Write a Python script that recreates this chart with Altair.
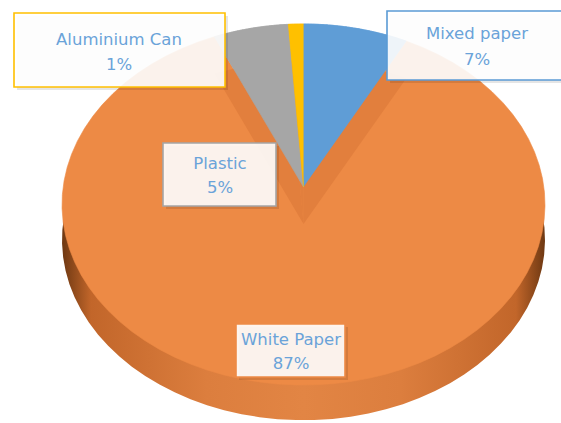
import altair as alt
import pandas as pd

# ---------------- data ----------------
categories = ["Mixed paper", "White Paper", "Plastic", "Aluminium Can"]
shares = [7, 87, 5, 1]

# ---------------- styles ----------------
slice_colors = ["#5F9DD6", "#ED8A45", "#A6A6A6", "#FFC000"]
label_borders = ["#5B9BD5", "#ED8A45", "#A5A5A5", "#FFC000"]
text_color = "#6AA3D9"
wall_color = "#E27F3D"

# label box layout (pixels)
box_x1 = [387, 236, 163, 14]
box_x2 = [570, 345, 276, 225]
box_y1 = [11, 324, 143, 13]
box_y2 = [80, 377, 206, 87]
txt_x = [477, 291, 220, 119]
txt_y1 = [34, 340, 164, 40]
txt_y2 = [60, 364, 188, 65]

W, H = 561, 423
X_RANGE = [62, 545]
Y_RANGE = [385, 24]
APEX = 0.097     # apparent centre of the tilted top face
DEPTH = 0.195    # thickness of the disc
N = 72

pie_df = pd.DataFrame({"category": categories, "share": shares,
                       "idx": list(range(len(categories)))})

xs = alt.Scale(domain=[-1, 1], range=X_RANGE)
ys = alt.Scale(domain=[-1, 1], range=Y_RANGE)


def wedges(shift=0.0):
    return (
        alt.Chart(pie_df)
        .transform_window(cum="sum(share)", sort=[alt.SortField("idx")], frame=[None, 0])
        .transform_joinaggregate(total="sum(share)")
        .transform_calculate(
            a0="2*PI*(datum.cum - datum.share)/datum.total",
            a1="2*PI*datum.cum/datum.total",
            steps=f"sequence(0, {N + 2})",
        )
        .transform_flatten(["steps"], as_=["k"])
        .transform_calculate(ang=f"datum.a0 + (datum.a1 - datum.a0)*(datum.k - 1)/{N}")
        .transform_calculate(
            px="datum.k == 0 ? 0 : sin(datum.ang)",
            py=f"(datum.k == 0 ? {APEX} : cos(datum.ang)) - {shift}",
        )
    )


enc = dict(
    x=alt.X("px:Q", scale=xs, axis=None),
    y=alt.Y("py:Q", scale=ys, axis=None),
    order=alt.Order("k:Q"),
    detail="category:N",
)

side_grad = alt.LinearGradient(
    gradient="linear", x1=0, x2=1, y1=0, y2=0,
    stops=[
        alt.GradientStop(color="#6E3812", offset=0),
        alt.GradientStop(color="#C2662A", offset=0.06),
        alt.GradientStop(color="#DC7E3E", offset=0.3),
        alt.GradientStop(color="#E28544", offset=0.5),
        alt.GradientStop(color="#DC7E3E", offset=0.7),
        alt.GradientStop(color="#C2662A", offset=0.94),
        alt.GradientStop(color="#6E3812", offset=1),
    ],
)

fill_scale = alt.Scale(domain=categories, range=slice_colors)

side = (
    wedges(DEPTH)
    .transform_filter("datum.category == 'White Paper'")
    .mark_line(filled=True, fill=side_grad, strokeWidth=0)
    .encode(**enc)
)

top_all = (
    wedges(0.0)
    .mark_line(filled=True, strokeWidth=0.6)
    .encode(
        fill=alt.Fill("category:N", scale=fill_scale, legend=None),
        stroke=alt.Stroke("category:N", scale=fill_scale, legend=None),
        **enc,
    )
)

walls = (
    wedges(DEPTH * 1.05)
    .transform_filter("datum.category != 'White Paper'")
    .mark_line(filled=True, fill=wall_color, strokeWidth=0)
    .encode(**enc)
)

top_small = (
    wedges(0.0)
    .transform_filter("datum.category != 'White Paper'")
    .mark_line(filled=True, strokeWidth=0.6)
    .encode(
        fill=alt.Fill("category:N", scale=fill_scale, legend=None),
        stroke=alt.Stroke("category:N", scale=fill_scale, legend=None),
        **enc,
    )
)

lab_df = pd.DataFrame({
    "category": categories,
    "pct": [f"{v}%" for v in shares],
    "bx1": box_x1, "bx2": box_x2, "by1": box_y1, "by2": box_y2,
    "tx": txt_x, "ty1": txt_y1, "ty2": txt_y2,
})

box_enc = dict(
    x=alt.X("bx1:Q", scale=None, axis=None),
    x2="bx2:Q",
    y=alt.Y("by1:Q", scale=None, axis=None),
    y2="by2:Q",
)

shadows = alt.Chart(lab_df).mark_rect(
    fill="#000000", fillOpacity=0.10, xOffset=3, x2Offset=3, yOffset=3, y2Offset=3
).encode(**box_enc)

boxes = alt.Chart(lab_df).mark_rect(
    fill="#FFFFFF", fillOpacity=0.9, strokeWidth=1.6
).encode(
    stroke=alt.Stroke("category:N", scale=alt.Scale(domain=categories, range=label_borders), legend=None),
    **box_enc,
)

name_txt = alt.Chart(lab_df).mark_text(
    font="DejaVu Sans", fontSize=16.5, color=text_color, baseline="middle", align="center"
).encode(
    x=alt.X("tx:Q", scale=None, axis=None),
    y=alt.Y("ty1:Q", scale=None, axis=None),
    text="category:N",
)

pct_txt = alt.Chart(lab_df).mark_text(
    font="DejaVu Sans", fontSize=16.5, color=text_color, baseline="middle", align="center"
).encode(
    x=alt.X("tx:Q", scale=None, axis=None),
    y=alt.Y("ty2:Q", scale=None, axis=None),
    text="pct:N",
)

chart = (
    alt.layer(side, top_all, walls, top_small, shadows, boxes, name_txt, pct_txt)
    .resolve_scale(x="independent", y="independent", fill="independent", stroke="independent")
    .properties(width=W, height=H, padding=0, autosize=alt.AutoSizeParams(type="none"),
                background="#FFFFFF")
    .configure_view(stroke=None)
)

chart.save("out.html", embed_options={"renderer": "svg", "actions": False})
